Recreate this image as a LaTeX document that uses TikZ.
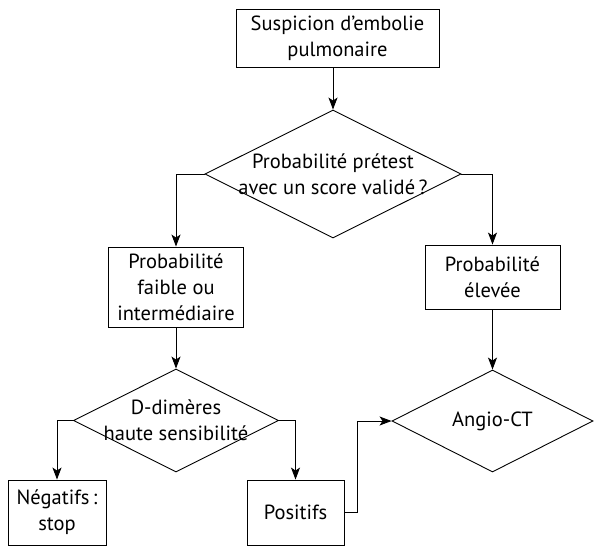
\documentclass[tikz,border=0pt]{standalone}
\usepackage{fontspec}
\setmainfont{PT Sans}
\usetikzlibrary{shapes.geometric,arrows.meta}
\begin{document}
\begin{tikzpicture}[x=1pt,y=-1pt,
  every node/.style={font=\fontsize{20.5}{26}\selectfont},
  boxnode/.style={draw,line width=0.9pt,inner sep=0pt,align=center},
  dianode/.style={draw,diamond,line width=0.9pt,inner sep=0pt,aspect=2},
  txt/.style={align=center,inner sep=0pt},
  arr/.style={line width=0.9pt,-{Stealth[length=12pt,width=9pt,inset=3pt]}}]
\useasboundingbox (0,0) rectangle (594,547);
\node[boxnode,minimum width=203pt,minimum height=58pt] (b1) at (337.5,38.5) {Suspicion d’embolie\\pulmonaire};
\node[dianode,minimum width=256pt,minimum height=128pt] (d1) at (333,174) {};
\node[txt] (t1) at (d1) {Probabilité prétest\\avec un score validé\,?};
\node[boxnode,minimum width=135pt,minimum height=80pt] (b2) at (176,287) {Probabilité\\faible ou\\intermédiaire};
\node[boxnode,minimum width=135pt,minimum height=64pt] (b3) at (492.5,277) {Probabilité\\élevée};
\node[dianode,minimum width=205pt,minimum height=103pt] (d2) at (176,420.5) {};
\node[txt] (t2) at (d2) {D-dimères\\haute sensibilité};
\node[dianode,minimum width=201pt,minimum height=102pt] (d3) at (492.5,421) {};
\node[txt] (t3) at (d3) {Angio-CT};
\node[boxnode,minimum width=98pt,minimum height=65pt] (b4) at (57,512.5) {Négatifs\,:\\stop};
\node[boxnode,minimum width=97pt,minimum height=65pt] (b5) at (295.5,512.5) {Positifs};
\draw[arr] (b1.south -| d1.north) -- (d1.north);
\draw[arr] (d1.west) -| (b2.north);
\draw[arr] (d1.east) -| (b3.north);
\draw[arr] (b2.south) -- (d2.north);
\draw[arr] (b3.south) -- (d3.north);
\draw[arr] (d2.west) -| (b4.north);
\draw[arr] (d2.east) -| (b5.north);
\draw[arr] (b5.east) -- ++(13,0) |- (d3.west);
\end{tikzpicture}
\end{document}
